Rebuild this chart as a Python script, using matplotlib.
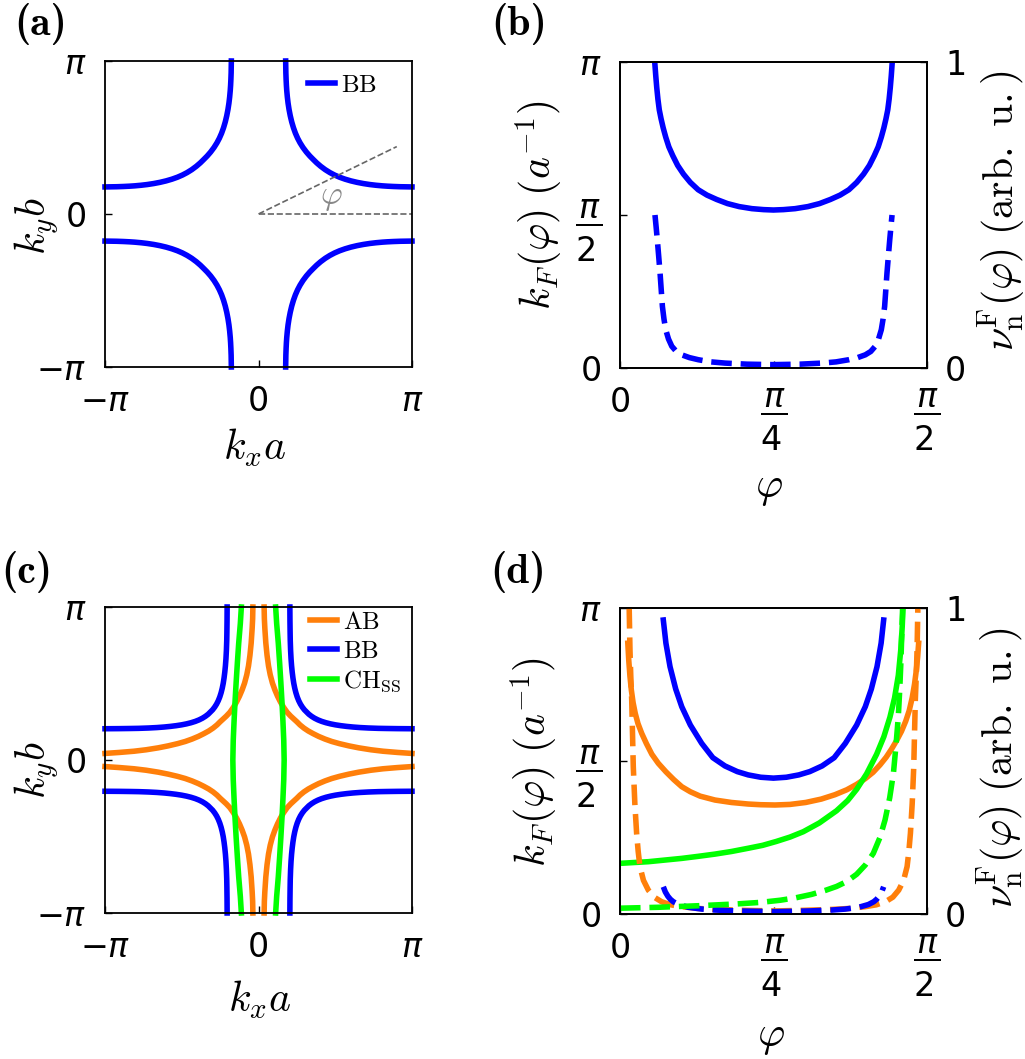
import numpy as np
import matplotlib
matplotlib.use("Agg")
import matplotlib.pyplot as plt

plt.rcParams["mathtext.fontset"] = "cm"
plt.rcParams["font.family"] = "DejaVu Sans"
plt.rcParams["axes.linewidth"] = 1.3

PI = np.pi
BLUE = "#0000ff"
ORANGE = "#ff7f0a"
GREEN = "#00ff00"
GRAY = "#666666"

# ---- (a) Fermi contour BB, first quadrant (k_x a, k_y b); mirrored to the others
a_bb_kx = [0.556, 0.560, 0.565, 0.571, 0.578, 0.590, 0.605, 0.625, 0.650, 0.680,
           0.715, 0.755, 0.80, 0.85, 0.91, 0.98, 1.05, 1.12, 1.191, 1.272, 1.366,
           1.462, 1.557, 1.66, 1.772, 1.891, 2.017, 2.147, 2.277, 2.405, 2.537,
           2.642, 2.762, 2.90, PI]
a_bb_ky = [PI, 2.90, 2.762, 2.642, 2.537, 2.405, 2.277, 2.147, 2.017, 1.891,
           1.772, 1.66, 1.557, 1.462, 1.366, 1.272, 1.191, 1.12, 1.05, 0.98, 0.91,
           0.85, 0.80, 0.755, 0.715, 0.680, 0.650, 0.625, 0.605, 0.590, 0.578,
           0.571, 0.565, 0.560, 0.556]
phi_ray_end = [2.83, 1.384]   # end of the dashed ray that marks phi

# ---- (b) k_F(phi) (solid) and nu(phi) (dashed) for BB
b_phi_kf = [0.179, 0.183, 0.188, 0.194, 0.201, 0.210, 0.221, 0.234, 0.25, 0.27,
            0.295, 0.325, 0.36, 0.40, 0.445, 0.495, 0.55, 0.61, 0.675, 0.735,
            0.785, 0.836, 0.896, 0.961, 1.021, 1.076, 1.126, 1.171, 1.211, 1.246,
            1.276, 1.301, 1.321, 1.337, 1.350, 1.361, 1.370, 1.377, 1.383, 1.388,
            1.393]
b_kf = [3.107, 3.0, 2.88, 2.76, 2.65, 2.56, 2.465, 2.37, 2.27, 2.18,
        2.08, 1.99, 1.905, 1.83, 1.775, 1.73, 1.688, 1.657, 1.636, 1.626,
        1.622, 1.626, 1.636, 1.657, 1.688, 1.73, 1.775, 1.83, 1.905, 1.99,
        2.08, 2.18, 2.27, 2.37, 2.465, 2.56, 2.65, 2.76, 2.88, 3.0, PI]
b_phi_nu = [0.179, 0.185, 0.191, 0.198, 0.205, 0.211, 0.217, 0.225, 0.234, 0.248,
            0.265, 0.288, 0.316, 0.355, 0.401, 0.465, 0.538, 0.65, 0.785,
            0.921, 1.033, 1.106, 1.170, 1.216, 1.255, 1.283, 1.306, 1.323, 1.337,
            1.346, 1.354, 1.360, 1.366, 1.373, 1.380, 1.386, 1.392]
b_nu = [0.50, 0.46, 0.418, 0.365, 0.31, 0.255, 0.201, 0.16, 0.125, 0.095,
        0.071, 0.054, 0.043, 0.034, 0.027, 0.020, 0.016, 0.0125, 0.011,
        0.0125, 0.016, 0.020, 0.027, 0.034, 0.043, 0.054, 0.071, 0.095, 0.125,
        0.16, 0.201, 0.255, 0.31, 0.365, 0.418, 0.46, 0.50]

# ---- (c) Fermi contours, first quadrant
c_ab_kx = [0.115, 0.120, 0.130, 0.150, 0.175, 0.205, 0.240, 0.285, 0.335, 0.390,
           0.450, 0.515, 0.585, 0.660, 0.725, 0.785, 0.85, 0.93, 1.02, 1.12,
           1.23, 1.36, 1.50, 1.66, 1.85, 2.05, 2.30, 2.55, 2.85, PI]
c_ab_ky = [PI, 2.90, 2.70, 2.40, 2.15, 1.93, 1.75, 1.58, 1.44, 1.31,
           1.19, 1.08, 0.98, 0.90, 0.84, 0.785, 0.72, 0.655, 0.595, 0.54,
           0.485, 0.43, 0.38, 0.335, 0.29, 0.25, 0.21, 0.18, 0.155, 0.135]
c_bb_kx = [0.642, 0.644, 0.647, 0.650, 0.657, 0.666, 0.677, 0.690, 0.705, 0.722,
           0.742, 0.765, 0.792, 0.823, 0.858, 0.897, 0.940, 0.985, 1.03, 1.086,
           1.148, 1.218, 1.296, 1.382, 1.474, 1.574, 1.684, 1.804, 1.934, 2.08,
           2.25, 2.45, 2.62, 2.85, PI]
c_bb_ky = [PI, 2.85, 2.62, 2.45, 2.25, 2.08, 1.934, 1.804, 1.684, 1.574,
           1.474, 1.382, 1.296, 1.218, 1.148, 1.086, 1.03, 0.985, 0.940, 0.897,
           0.858, 0.823, 0.792, 0.765, 0.742, 0.722, 0.705, 0.690, 0.677, 0.666,
           0.657, 0.650, 0.647, 0.644, 0.642]
c_ch_kx = [0.351, 0.372, 0.405, 0.432, 0.457, 0.480, 0.500, 0.517, 0.525]
c_ch_ky = [PI, 2.8, 2.4, 2.0, 1.6, 1.2, 0.8, 0.4, 0.0]

# ---- (d) k_F(phi) solid, nu(phi) dashed
d_bb_phi = [0.2216, 0.235, 0.256, 0.285, 0.316, 0.36, 0.418, 0.475, 0.537, 0.60,
            0.656, 0.72, 0.785, 0.851, 0.915, 0.971, 1.034, 1.096, 1.153, 1.211,
            1.255, 1.286, 1.315, 1.336, 1.349]
d_bb_kf = [3.018, 2.78, 2.539, 2.31, 2.128, 1.94, 1.752, 1.605, 1.52, 1.462,
           1.428, 1.404, 1.395, 1.404, 1.428, 1.462, 1.52, 1.605, 1.752, 1.94,
           2.128, 2.31, 2.539, 2.78, 3.018]
d_ab_phi = [0.040, 0.045, 0.051, 0.058, 0.067, 0.078, 0.092, 0.111, 0.135, 0.163,
            0.196, 0.235, 0.275, 0.316, 0.36, 0.41, 0.486, 0.57, 0.656, 0.72,
            0.793, 0.87, 0.95, 1.03, 1.10, 1.16, 1.21, 1.255, 1.295, 1.33,
            1.362, 1.39, 1.415, 1.44, 1.462, 1.48, 1.495, 1.507, 1.516, 1.523, 1.528]
d_ab_kf = [2.78, 2.60, 2.44, 2.30, 2.17, 2.06, 1.955, 1.855, 1.75, 1.64,
           1.547, 1.46, 1.38, 1.307, 1.255, 1.21, 1.17, 1.145, 1.129, 1.122,
           1.119, 1.125, 1.145, 1.18, 1.225, 1.275, 1.33, 1.39, 1.455, 1.53,
           1.61, 1.695, 1.78, 1.875, 1.98, 2.09, 2.22, 2.36, 2.50, 2.64, 2.78]
d_ch_phi = [0.0, 0.145, 0.316, 0.40, 0.486, 0.571, 0.656, 0.73, 0.80, 0.87,
            0.938, 1.02, 1.108, 1.165, 1.211, 1.262, 1.313, 1.35, 1.381, 1.405,
            1.424, 1.437, 1.444, 1.448]
d_ch_kf = [0.520, 0.537, 0.571, 0.592, 0.615, 0.642, 0.675, 0.705, 0.745, 0.79,
           0.845, 0.935, 1.06, 1.165, 1.28, 1.44, 1.64, 1.82, 2.02, 2.22,
           2.45, 2.72, 2.95, PI]
d_ab_nu_phi = [0.047, 0.051, 0.055, 0.060, 0.064, 0.068, 0.076, 0.085, 0.093, 0.102,
               0.12, 0.145, 0.175, 0.213, 0.26, 0.316, 0.40, 0.486, 0.63, 0.793,
               0.941, 1.085, 1.171, 1.255, 1.311, 1.358, 1.396, 1.426, 1.451, 1.469,
               1.478, 1.486, 1.495, 1.503, 1.507, 1.511, 1.516, 1.520, 1.524]
d_ab_nu = [1.0, 0.863, 0.78, 0.699, 0.59, 0.481, 0.36, 0.264, 0.205, 0.155,
           0.11, 0.078, 0.055, 0.040, 0.030, 0.024, 0.018, 0.015, 0.012, 0.010,
           0.012, 0.015, 0.018, 0.024, 0.030, 0.040, 0.055, 0.078, 0.11, 0.155,
           0.205, 0.264, 0.36, 0.481, 0.59, 0.699, 0.78, 0.863, 1.0]
d_bb_nu_phi = [0.2216, 0.232, 0.245, 0.258, 0.273, 0.30, 0.349, 0.42, 0.486, 0.60,
               0.793, 0.971, 1.085, 1.151, 1.222, 1.271, 1.298, 1.313, 1.326, 1.339,
               1.349]
d_bb_nu = [0.089, 0.072, 0.058, 0.048, 0.040, 0.031, 0.022, 0.016, 0.013, 0.010,
           0.0075, 0.010, 0.013, 0.016, 0.022, 0.031, 0.040, 0.048, 0.058, 0.072,
           0.089]
d_ch_nu_phi = [0.0, 0.2, 0.4, 0.6, 0.72, 0.82, 0.90, 0.98, 1.05, 1.108,
               1.16, 1.211, 1.255, 1.296, 1.33, 1.356, 1.38, 1.399, 1.412, 1.424,
               1.431, 1.437, 1.442, 1.446]
d_ch_nu = [0.019, 0.022, 0.027, 0.033, 0.038, 0.045, 0.053, 0.064, 0.077, 0.090,
           0.106, 0.130, 0.160, 0.198, 0.25, 0.307, 0.38, 0.46, 0.55, 0.645,
           0.73, 0.82, 0.92, 1.0]

LW = 4
TICK_FS = 24
LABEL_FS = 30
FRAC4 = r"$\dfrac{\pi}{\genfrac{}{}{0}{0}{\,}{4}}$"
FRAC2 = r"$\dfrac{\pi}{\genfrac{}{}{0}{0}{\,}{2}}$"


def four_quadrants(ax, kx, ky, color, label=None):
    kx, ky = np.asarray(kx), np.asarray(ky)
    for i, (sx, sy) in enumerate([(1, 1), (-1, 1), (1, -1), (-1, -1)]):
        ax.plot(sx * kx, sy * ky, color=color, lw=LW, clip_on=False,
                label=label if i == 0 else None)


def vertical_pair(ax, kx, ky, color, label=None):
    kx, ky = np.asarray(kx), np.asarray(ky)
    x = np.r_[kx, kx[::-1]]
    y = np.r_[ky, -ky[::-1]]
    ax.plot(x, y, color=color, lw=LW, clip_on=False, label=label)
    ax.plot(-x, y, color=color, lw=LW, clip_on=False)


def style_ticks(ax, which="both"):
    ax.tick_params(axis=which, direction="in", length=5, width=1.0,
                   labelsize=TICK_FS, pad=13)


def fermi_axes(ax):
    ax.set_xlim(-PI, PI)
    ax.set_ylim(-PI, PI)
    ax.set_xticks([-PI, 0, PI])
    ax.set_xticklabels([r"$-\pi$", "0", r"$\pi$"], math_fontfamily="dejavusans")
    ax.set_yticks([-PI, 0, PI])
    ax.set_yticklabels([r"$-\pi$", "0", r"$\pi$"], math_fontfamily="dejavusans")
    style_ticks(ax)
    ax.set_xlabel(r"$k_xa$", fontsize=LABEL_FS, va="center")
    ax.set_ylabel(r"$k_yb$", fontsize=LABEL_FS, va="center")


def phi_axes(ax):
    ax.set_xlim(0, PI / 2)
    ax.set_ylim(0, PI)
    ax.set_xticks([0, PI / 4, PI / 2])
    ax.set_xticklabels(["0", FRAC4, FRAC2], math_fontfamily="dejavusans")
    ax.set_yticks([0, PI / 2, PI])
    ax.set_yticklabels(["0", FRAC2, r"$\pi$"], math_fontfamily="dejavusans")
    style_ticks(ax)
    ax.set_xlabel(r"$\varphi$", fontsize=LABEL_FS, va="center")
    ax.set_ylabel(r"$k_F(\varphi)\ (a^{-1})$", fontsize=LABEL_FS, va="center")
    ax2 = ax.twinx()
    ax2.set_ylim(0, 1)
    ax2.set_yticks([0, 1])
    ax2.set_yticklabels(["0", "1"])
    style_ticks(ax2, "y")
    ax2.set_ylabel(r"$\nu_{\rm n}^{\rm F}(\varphi)\ (\rm arb.\ u.)$",
                   fontsize=LABEL_FS, rotation=90, va="center")
    return ax2


W, H = 1025, 1059
fig = plt.figure(figsize=(W / 100, H / 100), dpi=100)


def px_axes(x0, y0, x1, y1):
    return fig.add_axes([x0 / W, 1 - y1 / H, (x1 - x0) / W, (y1 - y0) / H])


ax_a = px_axes(105, 61, 412, 367)
ax_b = px_axes(620, 62, 927, 368)
ax_c = px_axes(105, 607, 412, 913)
ax_d = px_axes(620, 608, 927, 914)

# (a)
fermi_axes(ax_a)
four_quadrants(ax_a, a_bb_kx, a_bb_ky, BLUE, label=r"$\rm BB$")
ax_a.plot([0, PI], [0, 0], ls="--", color=GRAY, lw=1.2)
ax_a.plot([0, phi_ray_end[0]], [0, phi_ray_end[1]], ls="--", color=GRAY, lw=1.2)
ax_a.text(1.50, 0.36, r"$\varphi$", color="#888888", fontsize=24,
          ha="center", va="center")
ax_a.legend(loc="upper right", bbox_to_anchor=(0.886, 0.962), frameon=False,
            fontsize=18, handlelength=1.08, handletextpad=0.24,
            borderaxespad=0, borderpad=0)
ax_a.xaxis.set_label_coords(0.487, -0.266)
ax_a.yaxis.set_label_coords(-0.222, 0.46)

# (b)
ax_b2 = phi_axes(ax_b)
ax_b.plot(b_phi_kf, b_kf, color=BLUE, lw=LW)
ax_b2.plot(b_phi_nu, b_nu, color=BLUE, lw=LW, ls="--")
ax_b.xaxis.set_label_coords(0.484, -0.39)
ax_b.yaxis.set_label_coords(-0.264, 0.533)
ax_b2.yaxis.set_label_coords(1.241, 0.514)

# (c)
fermi_axes(ax_c)
four_quadrants(ax_c, c_ab_kx, c_ab_ky, ORANGE, label=r"$\rm AB$")
four_quadrants(ax_c, c_bb_kx, c_bb_ky, BLUE, label=r"$\rm BB$")
vertical_pair(ax_c, c_ch_kx, c_ch_ky, GREEN, label=r"$\rm CH_{SS}$")
ax_c.legend(loc="upper right", bbox_to_anchor=(0.967, 0.99), frameon=False,
            fontsize=18, handlelength=1.08, handletextpad=0.24,
            borderaxespad=0, borderpad=0, labelspacing=0.2)
ax_c.xaxis.set_label_coords(0.505, -0.283)
ax_c.yaxis.set_label_coords(-0.222, 0.467)

# (d)
ax_d2 = phi_axes(ax_d)
ax_d.plot(d_ab_phi, d_ab_kf, color=ORANGE, lw=LW)
ax_d.plot(d_bb_phi, d_bb_kf, color=BLUE, lw=LW)
ax_d.plot(d_ch_phi, d_ch_kf, color=GREEN, lw=LW)
ax_d2.plot(d_ab_nu_phi, d_ab_nu, color=ORANGE, lw=LW, ls="--")
ax_d2.plot(d_bb_nu_phi, d_bb_nu, color=BLUE, lw=LW, ls="--")
ax_d2.plot(d_ch_nu_phi, d_ch_nu, color=GREEN, lw=LW, ls="--")
ax_d.xaxis.set_label_coords(0.493, -0.40)
ax_d.yaxis.set_label_coords(-0.278, 0.497)
ax_d2.yaxis.set_label_coords(1.238, 0.477)

# panel letters
for lab, (x, y) in {"a": (41, 24), "b": (519, 24),
                    "c": (27, 572), "d": (518, 572)}.items():
    fig.text(x / W, 1 - y / H, "(%s)" % lab, fontsize=30, family="cmb10",
             ha="center", va="center")

fig.savefig("out.png", dpi=100)
